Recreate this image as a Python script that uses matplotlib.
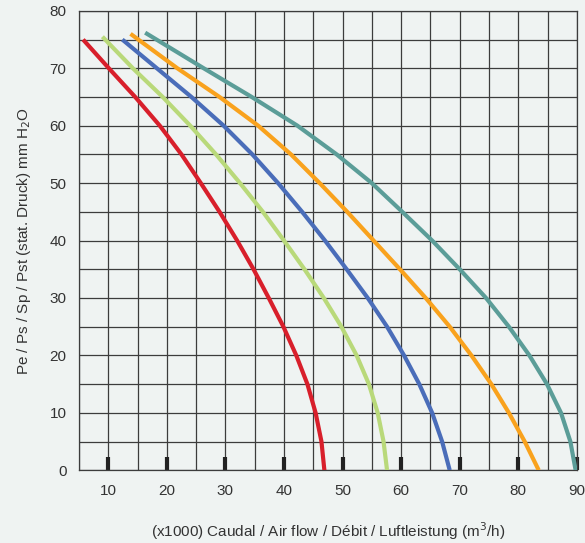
import matplotlib

matplotlib.use("Agg")
import matplotlib.pyplot as plt

plt.rcParams["font.family"] = ["Liberation Sans Narrow", "Liberation Sans", "DejaVu Sans"]

# pressure levels (mm H2O), top to bottom
pressure = [70, 65, 60, 55, 50, 45, 40, 35, 30, 25, 20, 15, 10, 5, 0]

# airflow (x1000 m3/h) of each curve at those pressure levels,
# plus where each curve starts at the top
red_start = (5.7, 75.0)
red_flow = [10.1, 14.6, 18.8, 22.5, 25.8, 29.0, 32.0, 34.8, 37.4, 39.9, 42.1, 44.0, 45.4, 46.4, 46.9]
green_start = (9.0, 75.5)
green_flow = [14.2, 19.3, 24.0, 28.4, 32.5, 36.4, 40.0, 43.5, 46.8, 49.8, 52.4, 54.5, 56.0, 57.0, 57.6]
blue_start = (12.4, 75.0)
blue_flow = [18.3, 24.2, 29.7, 34.6, 39.0, 43.1, 47.0, 50.7, 54.3, 57.6, 60.5, 63.1, 65.3, 67.0, 68.3]
orange_start = (13.8, 76.0)
orange_flow = [21.8, 29.0, 35.6, 41.2, 46.1, 50.8, 55.3, 59.8, 64.2, 68.3, 72.0, 75.4, 78.4, 81.1, 83.5]
teal_start = (16.3, 76.2)
teal_flow = [26.3, 34.5, 42.3, 49.0, 55.0, 60.2, 65.3, 70.0, 74.5, 78.4, 81.9, 84.9, 87.3, 88.9, 89.8]

series = [
    (red_start, red_flow, "#d81f2b"),
    (green_start, green_flow, "#b9d97a"),
    (blue_start, blue_flow, "#4a6db9"),
    (orange_start, orange_flow, "#f9a21d"),
    (teal_start, teal_flow, "#5b9d98"),
]

x_ticks = [10, 20, 30, 40, 50, 60, 70, 80, 90]
y_ticks = [0, 10, 20, 30, 40, 50, 60, 70, 80]
grid_x = [5, 15, 25, 35, 45, 55, 65, 75, 85]
grid_y = [5, 15, 25, 35, 45, 55, 65, 75]

bg = "#eff3f2"
fig = plt.figure(figsize=(5.85, 5.43), dpi=100, facecolor=bg)
ax = fig.add_axes([0.135, 0.134, 0.851, 0.846], facecolor=bg)

for start, flow, color in series:
    xs = [start[0]] + flow
    ys = [start[1]] + pressure
    ax.plot(xs, ys, color=color, lw=3.0, solid_capstyle="butt",
            solid_joinstyle="round", zorder=3)

ax.set_xlim(5, 90)
ax.set_ylim(0, 80)
ax.set_xticks(x_ticks)
ax.set_xticks(grid_x, minor=True)
ax.set_yticks(y_ticks)
ax.set_yticks(grid_y, minor=True)
ax.grid(which="both", color="#3c3c3c", lw=0.9, zorder=1)
ax.set_axisbelow(True)

ax.tick_params(axis="x", which="major", direction="in", length=9.5, width=3,
               color="#222222", pad=10, labelsize=11, labelcolor="#333333")
ax.tick_params(axis="y", which="major", length=0, pad=9, labelsize=11,
               labelcolor="#333333")
ax.tick_params(which="minor", length=0)
for s in ax.spines.values():
    s.set_color("#3c3c3c")
    s.set_linewidth(0.9)

ax.set_xlabel("(x1000) Caudal / Air flow / Débit / Luftleistung (m$^3$/h)",
              fontsize=11, color="#333333", labelpad=16)
ax.set_ylabel("Pe / Ps / Sp / Pst (stat. Druck) mm H$_2$O",
              fontsize=11, color="#333333", labelpad=12)

fig.savefig("out.png", dpi=100, facecolor=bg)
